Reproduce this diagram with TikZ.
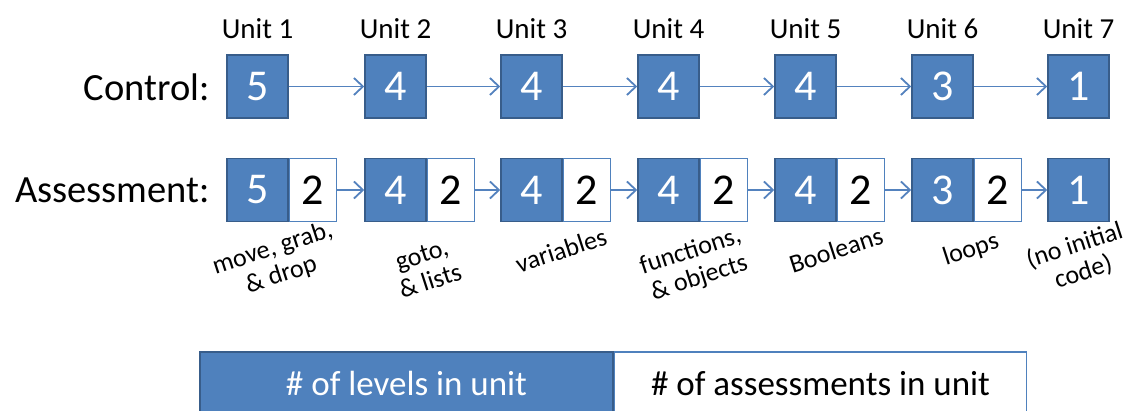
\documentclass[tikz,border=0pt]{standalone}
\usepackage{fontspec}
\setmainfont{Carlito}
\usetikzlibrary{arrows.meta}
\definecolor{boxblue}{RGB}{79,129,189}
\definecolor{edgeblue}{RGB}{56,93,138}
\definecolor{arrblue}{RGB}{84,130,190}
\begin{document}
\begin{tikzpicture}[x=1pt,y=-1pt,
 lvbox/.style={draw=edgeblue,fill=boxblue,line width=1.5pt,minimum width=61pt,minimum height=63pt,inner sep=0pt,text=white,font=\fontsize{44}{44}\selectfont},
 asbox/.style={draw=boxblue,fill=white,line width=1.5pt,minimum width=47pt,minimum height=63pt,inner sep=0pt,text=black,font=\fontsize{44}{44}\selectfont,anchor=west},
 unitlbl/.style={font=\fontsize{29}{29}\selectfont},
 rowlbl/.style={font=\fontsize{38.5}{38.5}\selectfont,anchor=east,inner sep=0pt},
 sublbl/.style={font=\fontsize{26}{28}\selectfont,align=center,rotate=18,inner sep=0pt},
 arr/.style={draw=arrblue,line width=1.8pt,-{Straight Barb[length=9pt,width=17pt]}},
 legblue/.style={draw=edgeblue,fill=boxblue,line width=1.5pt,minimum width=413pt,minimum height=63pt,inner sep=0pt,text=white,font=\fontsize{35}{35}\selectfont},
 legwhite/.style={draw=boxblue,fill=white,line width=1.5pt,minimum width=412pt,minimum height=63pt,inner sep=0pt,text=black,font=\fontsize{35}{35}\selectfont,anchor=west}
]
\useasboundingbox (0,0) rectangle (1135,411);
% row labels
\node[rowlbl] (ctl) at (210,87) {Control:};
\node[rowlbl] (asl) at (210,190) {Assessment:};
% unit headings and control boxes
\foreach \i/\x/\n in {1/257.5/5,2/395.5/4,3/531.5/4,4/668.5/4,5/805.5/4,6/942.5/3,7/1078.5/1}{
  \node[unitlbl] (u\i) at (\x,29) {Unit \i};
  \node[lvbox] (c\i) at (\x,86.5) {\n};
}
% assessment boxes
\foreach \i/\x/\n in {1/257.5/5,2/395.5/4,3/531.5/4,4/668.5/4,5/805.5/4,6/942.5/3}{
  \node[lvbox] (a\i) at (\x,190) {\n};
  \node[asbox] (w\i) at (a\i.east) {2};
}
\node[lvbox] (a7) at (1078.5,190) {1};
% arrows
\foreach \i/\j in {1/2,2/3,3/4,4/5,5/6,6/7}{
  \draw[arr] (c\i) -- (c\j);
  \draw[arr] (w\i) -- (a\j);
}
% topic labels
\node[sublbl] (t1) at (277,262) {move, grab,\\\& drop};
\node[sublbl] (t2) at (426,268) {goto,\\\& lists};
\node[sublbl] (t3) at (561,250) {variables};
\node[sublbl] (t4) at (695,265) {functions,\\\& objects};
\node[sublbl] (t5) at (836,250) {Booleans};
\node[sublbl] (t6) at (971,250) {loops};
\node[sublbl] (t7) at (1079,259) {(no initial\\code)};
% legend
\node[legblue] (lb) at (406.5,383.5) {\# of levels in unit};
\node[legwhite] (lw) at (lb.east) {\# of assessments in unit};
\end{tikzpicture}
\end{document}
